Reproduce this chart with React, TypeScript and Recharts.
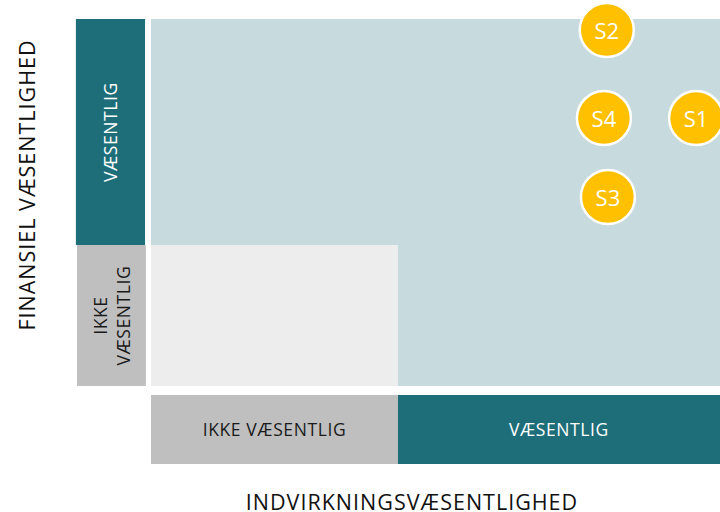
import React from 'react';
import { ScatterChart, Scatter, XAxis, YAxis, ReferenceArea } from 'recharts';

// Topics plotted on the materiality matrix
const topicLabels = ['S1', 'S2', 'S3', 'S4'];
const impactScores = [95.8, 80.1, 80.3, 79.6];
const financialScores = [73.0, 97.0, 51.5, 73.0];

// Thresholds (data units) separating "ikke væsentlig" / "væsentlig"
const impactThreshold = 43.4;
const financialThreshold = 38.4;

// Axis and category texts
const xAxisTitle = 'INDVIRKNINGSVÆSENTLIGHED';
const yAxisTitle = 'FINANSIEL VÆSENTLIGHED';
const materialLabel = 'VÆSENTLIG';
const notMaterialLabel = 'IKKE VÆSENTLIG';

const data = topicLabels.map((label, i) => ({
  label,
  impact: impactScores[i],
  financial: financialScores[i],
}));

const FONT = '"Open Sans", Lato, sans-serif';
const TEAL = '#1e6e79';
const GRAY = '#bfbfbf';
const LIGHT_BLUE = '#c7dbdf';
const LIGHT_GRAY = '#ededed';
const YELLOW = '#ffc000';

const Bubble = (props: any) => {
  const { cx, cy, payload } = props;
  return (
    <g>
      <circle cx={cx} cy={cy} r={27} fill={YELLOW} stroke="#ffffff" strokeWidth={2.5} />
      <text
        x={cx}
        y={cy}
        textAnchor="middle"
        dominantBaseline="central"
        fill="#ffffff"
        fontSize={22}
        fontFamily={FONT}
      >
        {payload.label}
      </text>
    </g>
  );
};

const boxLabel = (lines: string[], color: string, rotate: boolean, size = 17.5) => (props: any) => {
  const vb = props.viewBox || {};
  const cx = vb.x + vb.width / 2;
  const cy = vb.y + vb.height / 2;
  const lh = size * 1.35;
  const start = -((lines.length - 1) * lh) / 2;
  return (
    <g transform={rotate ? `rotate(-90, ${cx}, ${cy})` : undefined}>
      <text
        x={cx}
        y={cy}
        textAnchor="middle"
        fill={color}
        fontSize={size}
        letterSpacing={0.6}
        fontFamily={FONT}
      >
        {lines.map((l, i) => (
          <tspan key={i} x={cx} y={cy + start + i * lh} dominantBaseline="central">
            {l}
          </tspan>
        ))}
      </text>
    </g>
  );
};

const xTitle = (props: any) => {
  const vb = props.viewBox || {};
  return (
    <text
      x={412}
      y={vb.y + 124}
      textAnchor="middle"
      fill="#111"
      fontSize={21.5}
      letterSpacing={1}
      fontFamily={FONT}
    >
      {xAxisTitle}
    </text>
  );
};

const yTitle = () => {
  const cx = 26;
  const cy = 185;
  return (
    <text
      x={cx}
      y={cy}
      transform={`rotate(-90, ${cx}, ${cy})`}
      textAnchor="middle"
      dominantBaseline="central"
      fill="#111"
      fontSize={21.5}
      letterSpacing={1}
      fontFamily={FONT}
    >
      {yAxisTitle}
    </text>
  );
};

export default function App() {
  return (
    <div style={{ position: 'absolute', left: 0, top: 0, width: 720, height: 512, background: '#fff' }}>
      <ScatterChart width={720} height={512} margin={{ top: 19, right: 0, bottom: 0, left: 0 }}>
        <XAxis
          type="number"
          dataKey="impact"
          domain={[0, 100]}
          height={126}
          tick={false}
          axisLine={false}
          tickLine={false}
          label={{ content: xTitle }}
        />
        <YAxis
          type="number"
          dataKey="financial"
          domain={[0, 100]}
          width={151}
          tick={false}
          axisLine={false}
          tickLine={false}
          label={{ content: yTitle }}
        />
        <ReferenceArea x1={0} x2={100} y1={0} y2={100} fill={LIGHT_BLUE} fillOpacity={1} ifOverflow="visible" />
        <ReferenceArea
          x1={0}
          x2={impactThreshold}
          y1={0}
          y2={financialThreshold}
          fill={LIGHT_GRAY}
          fillOpacity={1}
          ifOverflow="visible"
        />
        <ReferenceArea
          x1={-13.2}
          x2={-1.05}
          y1={financialThreshold}
          y2={100}
          fill={TEAL}
          fillOpacity={1}
          ifOverflow="visible"
          label={{ content: boxLabel([materialLabel], '#ffffff', true) }}
        />
        <ReferenceArea
          x1={-13.0}
          x2={-0.9}
          y1={0}
          y2={financialThreshold}
          fill={GRAY}
          fillOpacity={1}
          ifOverflow="visible"
          label={{ content: boxLabel(['IKKE', 'VÆSENTLIG'], '#1a1a1a', true) }}
        />
        <ReferenceArea
          x1={0}
          x2={impactThreshold}
          y1={-21.25}
          y2={-2.45}
          fill={GRAY}
          fillOpacity={1}
          ifOverflow="visible"
          label={{ content: boxLabel([notMaterialLabel], '#1a1a1a', false) }}
        />
        <ReferenceArea
          x1={impactThreshold}
          x2={100}
          y1={-21.25}
          y2={-2.45}
          fill={TEAL}
          fillOpacity={1}
          ifOverflow="visible"
          label={{ content: boxLabel([materialLabel], '#ffffff', false) }}
        />
        <Scatter data={data} shape={<Bubble />} isAnimationActive={false} />
      </ScatterChart>
    </div>
  );
}
